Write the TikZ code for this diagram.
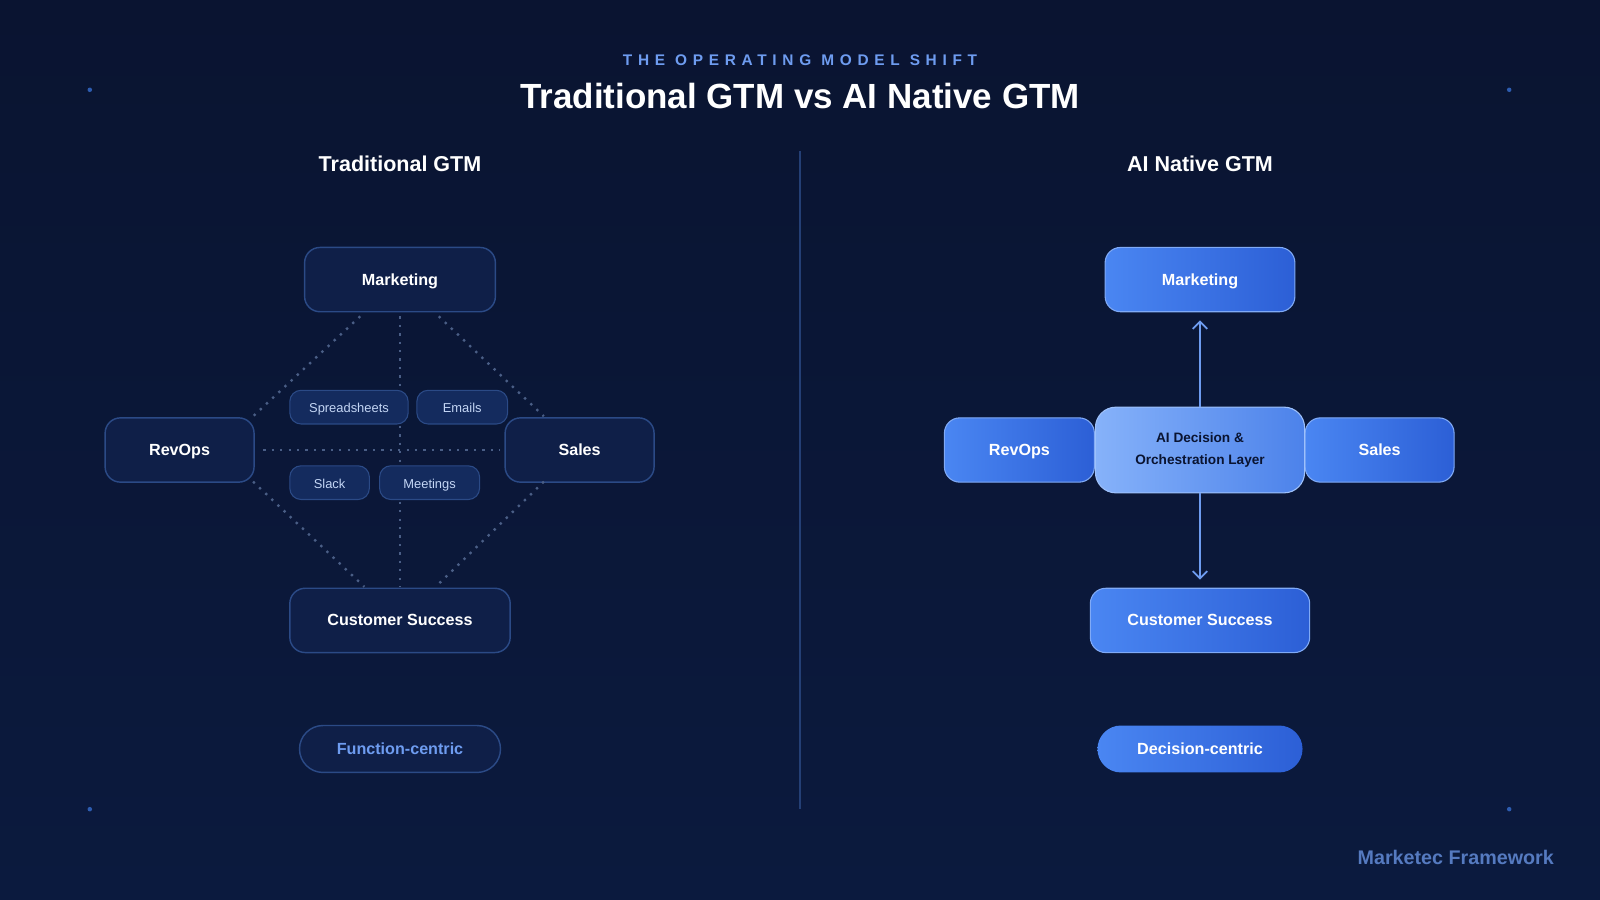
\documentclass[tikz,border=0pt]{standalone}
\usepackage{fontspec}
\setmainfont{Liberation Sans}
\usetikzlibrary{positioning,arrows.meta}
\definecolor{bgtop}{HTML}{0A1431}
\definecolor{bgbot}{HTML}{0B1A3E}
\definecolor{boxfill}{HTML}{0F1F48}
\definecolor{boxline}{HTML}{2B4A86}
\definecolor{chipfill}{HTML}{142B5E}
\definecolor{chiptext}{HTML}{C4D6F5}
\definecolor{dotline}{HTML}{4A5E86}
\definecolor{blueA}{HTML}{4A86F2}
\definecolor{blueB}{HTML}{2C5FD6}
\definecolor{coreA}{HTML}{86B2FA}
\definecolor{coreB}{HTML}{4C82EA}
\definecolor{accent}{HTML}{6E9CF0}
\definecolor{corner}{HTML}{2D5CB0}
\tikzset{
  oldbox/.style={draw=boxline, fill=boxfill, rounded corners=0.3cm, line width=0.8pt,
    text=white, font=\fontsize{9}{11}\selectfont\bfseries, minimum height=1.26cm,
    text height=1.6ex, text depth=0.45ex},
  chip/.style={draw=boxline, fill=chipfill, rounded corners=0.22cm, line width=0.6pt,
    text=chiptext, font=\fontsize{7.2}{9}\selectfont, minimum height=0.66cm,
    text height=1.6ex, text depth=0.45ex},
  newbox/.style={draw=blueA!70!white, left color=blueA, right color=blueB, rounded corners=0.3cm,
    line width=0.6pt, text=white, font=\fontsize{9}{11}\selectfont\bfseries, minimum height=1.26cm,
    text height=1.6ex, text depth=0.45ex},
  link/.style={dotline, line width=1.3pt, dash pattern=on 1.3pt off 3.4pt},
  flow/.style={accent, line width=1pt, -{Straight Barb[length=4pt,width=8pt]}},
  pill/.style={rounded corners=0.46cm, minimum height=0.92cm, font=\fontsize{9}{11}\selectfont\bfseries,
    text height=1.6ex, text depth=0.45ex}
}
\begin{document}
\begin{tikzpicture}[x=0.02cm,y=-0.02cm]
  \useasboundingbox (0,0) rectangle (1568,882);
  \shade[top color=bgtop, bottom color=bgbot] (0,0) rectangle (1568,882);

  % corner marks and divider
  \foreach \px/\py in {88/88,1479/88,88/793,1479/793}
    \fill[corner] (\px,\py) circle (2.2);
  \draw[boxline!80!bgtop, line width=0.8pt] (784,148) -- (784,793);

  % headings
  \node[text=accent, font=\fontsize{8.6}{11}\selectfont\bfseries] (kicker) at (784,59)
    {\addfontfeature{LetterSpace=37}THE OPERATING MODEL SHIFT};
  \node[text=white, font=\fontsize{19.5}{23}\selectfont\bfseries] (title) at (784,94)
    {Traditional GTM vs AI Native GTM};
  \node[text=white, font=\fontsize{12}{14}\selectfont\bfseries] (lefthead) at (392,161) {Traditional GTM};
  \node[text=white, font=\fontsize{12}{14}\selectfont\bfseries] (righthead) at (1176,161) {AI Native GTM};

  % traditional side
  \node[oldbox, minimum width=3.74cm] (mkt) at (392,274) {Marketing};
  \node[oldbox, minimum width=2.92cm] (rev) at (176,441) {RevOps};
  \node[oldbox, minimum width=2.92cm] (sal) at (568,441) {Sales};
  \node[oldbox, minimum width=4.32cm] (cs) at (392,608) {Customer Success};

  \coordinate (mktL) at (353,310); \coordinate (mktR) at (430,310); \coordinate (mktC) at (392,310);
  \coordinate (csL) at (357,575);  \coordinate (csR) at (427,575);  \coordinate (csC) at (392,575);
  \coordinate (revT) at (248,408); \coordinate (revB) at (248,472); \coordinate (revC) at (258,441);
  \coordinate (salT) at (533,408); \coordinate (salB) at (533,472); \coordinate (salC) at (490,441);
  \draw[link] (mktL) -- (revT);
  \draw[link] (mktR) -- (salT);
  \draw[link] (revB) -- (csL);
  \draw[link] (salB) -- (csR);
  \draw[link] (mktC) -- (csC);
  \draw[link] (revC) -- (salC);

  \node[chip, minimum width=2.32cm] (sheets) at (342,399) {Spreadsheets};
  \node[chip, minimum width=1.78cm] (mail) at (453,399) {Emails};
  \node[chip, minimum width=1.56cm] (slack) at (323,473) {Slack};
  \node[chip, minimum width=1.96cm] (meet) at (421,473) {Meetings};

  \node[pill, draw=boxline, fill=boxfill, line width=0.8pt, text=accent, minimum width=3.94cm]
    (fcentric) at (392,734) {Function-centric};

  % ai native side
  \node[newbox, minimum width=3.72cm] (nmkt) at (1176,274) {Marketing};
  \node[newbox, minimum width=2.94cm] (nrev) at (999,441) {RevOps};
  \node[newbox, minimum width=2.92cm] (nsal) at (1352,441) {Sales};
  \node[newbox, minimum width=4.3cm] (ncs) at (1176,608) {Customer Success};
  \node[newbox, left color=coreA, right color=coreB, draw=coreA!80!white, rounded corners=0.4cm,
    minimum width=4.1cm, minimum height=1.68cm, text=bgtop, align=center, text height=, text depth=,
    font=\fontsize{7.6}{12.5}\selectfont\bfseries] (core) at (1176,441)
    {AI Decision \&\\Orchestration Layer};
  \draw[flow] (core.north) -- ([yshift=-0.16cm]nmkt.south);
  \draw[flow] (core.south) -- ([yshift=0.16cm]ncs.north);

  \node[pill, left color=blueA, right color=blueB, text=white, minimum width=4.02cm]
    (dcentric) at (1176,734) {Decision-centric};

  \node[anchor=east, text=accent!75!bgtop, font=\fontsize{11}{13}\selectfont\bfseries]
    (brand) at (1529,840) {Marketec Framework};
\end{tikzpicture}
\end{document}
